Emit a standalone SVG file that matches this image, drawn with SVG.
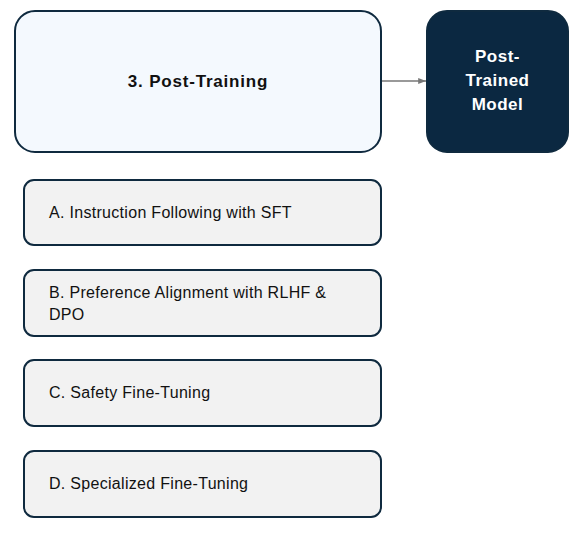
<svg xmlns="http://www.w3.org/2000/svg" width="583" height="536" viewBox="0 0 583 536">
<style>
.box{stroke:#0f2a3f;stroke-width:2}
.main{fill:#f4f9fe}
.dark{fill:#0b2841}
.sub{fill:#f2f2f2}
.t{font-family:"Liberation Sans",Arial,sans-serif;fill:#111}
.h{font-size:17px;font-weight:bold;letter-spacing:0.8px}
.s{font-size:16px;letter-spacing:0.3px}
.w{fill:#fff;font-size:17px;font-weight:bold;letter-spacing:0.5px}
</style>
<defs>
<marker id="ah" viewBox="0 0 10 10" refX="10" refY="5" markerWidth="6" markerHeight="6" orient="auto">
<path d="M0,1 L10,5 L0,9 z" fill="#777"/>
</marker>
</defs>
<rect width="583" height="536" fill="#fff"/>
<g id="connectors">
<line x1="382" y1="81" x2="426" y2="81" stroke="#777" stroke-width="1.3" marker-end="url(#ah)"/>
</g>
<g id="post-training">
<rect class="box main" x="15" y="11" width="366" height="141" rx="20"/>
<text class="t h" x="198" y="87" text-anchor="middle">3. Post-Training</text>
</g>
<g id="post-trained-model">
<rect class="box dark" x="427" y="11" width="141" height="141" rx="20"/>
<text class="t w" x="497.5" y="62" text-anchor="middle">Post-</text>
<text class="t w" x="497.5" y="86" text-anchor="middle">Trained</text>
<text class="t w" x="497.5" y="110" text-anchor="middle">Model</text>
</g>
<g id="sft">
<rect class="box sub" x="24" y="180" width="357" height="65" rx="10"/>
<text class="t s" x="49" y="218">A. Instruction Following with SFT</text>
</g>
<g id="rlhf">
<rect class="box sub" x="24" y="270" width="357" height="66" rx="10"/>
<text class="t s" x="49" y="298">B. Preference Alignment with RLHF &amp;</text>
<text class="t s" x="49" y="320">DPO</text>
</g>
<g id="safety">
<rect class="box sub" x="24" y="360" width="357" height="66" rx="10"/>
<text class="t s" x="49" y="398">C. Safety Fine-Tuning</text>
</g>
<g id="specialized">
<rect class="box sub" x="24" y="451" width="357" height="66" rx="10"/>
<text class="t s" x="49" y="489">D. Specialized Fine-Tuning</text>
</g>
</svg>
